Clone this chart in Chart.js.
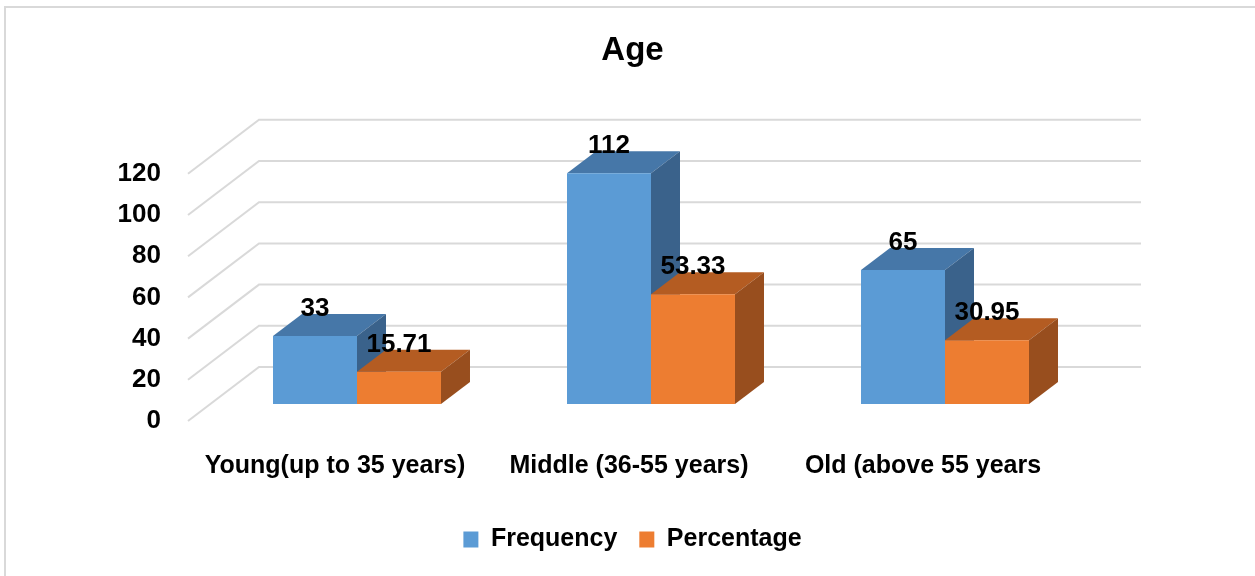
<!DOCTYPE html>
<html>
<head>
<meta charset="utf-8">
<script src="https://cdn.jsdelivr.net/npm/chart.js@4.4.1/dist/chart.umd.min.js"></script>
<style>
  html, body { margin: 0; padding: 0; background: #ffffff; }
  #wrap { width: 1255px; height: 576px; position: relative; }
</style>
</head>
<body>
<div id="wrap"><canvas id="c" width="1255" height="576"></canvas></div>
<script>
// ---- data ----
const categories = ['Young(up to 35 years)', 'Middle (36-55 years)', 'Old (above 55 years'];
const seriesNames = ['Frequency', 'Percentage'];
const frequency = [33, 112, 65];
const percentage = [15.71, 53.33, 30.95];
const yTickValues = [0, 20, 40, 60, 80, 100, 120];
const titleText = 'Age';

// ---- styles ----
const FONT = "'Liberation Sans', Arial, sans-serif";
const frontColors = ['#5b9bd5', '#ed7d31'];
const topColors = ['#4677a8', '#b45c22'];
const sideColors = ['#3a628b', '#984e1e'];
const GRID = '#d9d9d9';
// depth offsets relative to the bar plane (pixels)
const FRONT = { dx: -22, dy: 17 };
const BACK = { dx: 49, dy: -37 };
const DEPTH = { dx: 29, dy: -22 };

const threeD = {
  id: 'threeD',
  beforeDraw(chart) {
    const ctx = chart.ctx;
    ctx.save();
    ctx.fillStyle = '#ffffff';
    ctx.fillRect(0, 0, chart.width, chart.height);
    ctx.strokeStyle = '#d9d9d9';
    ctx.lineWidth = 2;
    ctx.strokeRect(5, 7, chart.width + 50, chart.height + 50);
    ctx.restore();
  },
  beforeDatasetsDraw(chart) {
    const ctx = chart.ctx;
    const a = chart.chartArea;
    const ys = chart.scales.y;
    ctx.save();
    ctx.strokeStyle = GRID;
    ctx.lineWidth = 2;
    yTickValues.forEach(v => {
      const py = ys.getPixelForValue(v);
      ctx.beginPath();
      ctx.moveTo(a.left + FRONT.dx, py + FRONT.dy);
      ctx.lineTo(a.left + BACK.dx, py + BACK.dy);
      ctx.lineTo(a.right + BACK.dx, py + BACK.dy);
      ctx.stroke();
    });
    const metas = [chart.getDatasetMeta(0), chart.getDatasetMeta(1)];
    for (let i = 0; i < categories.length; i++) {
      metas.forEach((m, di) => {
        const el = m.data[i];
        const p = el.getProps(['x', 'y', 'base', 'width'], true);
        const l = p.x - p.width / 2, r = p.x + p.width / 2;
        const top = p.y, base = p.base;
        ctx.fillStyle = topColors[di];
        ctx.beginPath();
        ctx.moveTo(l, top);
        ctx.lineTo(r, top);
        ctx.lineTo(r + DEPTH.dx, top + DEPTH.dy);
        ctx.lineTo(l + DEPTH.dx, top + DEPTH.dy);
        ctx.closePath();
        ctx.fill();
        ctx.fillStyle = sideColors[di];
        ctx.beginPath();
        ctx.moveTo(r, top);
        ctx.lineTo(r + DEPTH.dx, top + DEPTH.dy);
        ctx.lineTo(r + DEPTH.dx, base + DEPTH.dy);
        ctx.lineTo(r, base);
        ctx.closePath();
        ctx.fill();
      });
    }
    ctx.restore();
  },
  afterDatasetsDraw(chart) {
    const ctx = chart.ctx;
    ctx.save();
    ctx.fillStyle = '#000000';
    ctx.font = 'bold 26px ' + FONT;
    ctx.textAlign = 'center';
    ctx.textBaseline = 'middle';
    chart.data.datasets.forEach((ds, di) => {
      const m = chart.getDatasetMeta(di);
      m.data.forEach((el, i) => {
        const p = el.getProps(['x', 'y'], true);
        ctx.fillText(String(ds.data[i]), p.x, p.y - 27);
      });
    });
    ctx.restore();
  }
};

new Chart(document.getElementById('c'), {
  type: 'bar',
  data: {
    labels: categories,
    datasets: [
      { label: seriesNames[0], data: frequency, backgroundColor: frontColors[0], borderWidth: 0 },
      { label: seriesNames[1], data: percentage, backgroundColor: frontColors[1], borderWidth: 0 }
    ]
  },
  options: {
    responsive: false,
    devicePixelRatio: 1,
    animation: false,
    datasets: { bar: { categoryPercentage: 0.5714, barPercentage: 1.0 } },
    layout: { padding: { left: 10, right: 0, top: 0, bottom: 14 } },
    plugins: {
      title: {
        display: true,
        text: titleText,
        color: '#000000',
        font: { family: FONT, size: 33, weight: 'bold' },
        padding: { top: 31, bottom: 45 }
      },
      legend: {
        position: 'bottom',
        labels: {
          color: '#000000',
          font: { family: FONT, size: 25, weight: 'bold' },
          boxWidth: 15,
          boxHeight: 16,
          padding: 22
        }
      },
      tooltip: { enabled: false }
    },
    scales: {
      x: {
        grid: { display: false, drawTicks: false },
        border: { display: false },
        ticks: {
          color: '#000000',
          font: { family: FONT, size: 25, weight: 'bold' },
          padding: 47,
          labelOffset: FRONT.dx,
          maxRotation: 0,
          autoSkip: false
        },
        afterFit(s) { s.height = 101; }
      },
      y: {
        min: 0,
        max: 140,
        grid: { display: false, drawTicks: false },
        border: { display: false },
        ticks: {
          stepSize: 20,
          color: '#000000',
          font: { family: FONT, size: 26, weight: 'bold' },
          padding: 49,
          labelOffset: FRONT.dy
        },
        afterBuildTicks(s) { s.ticks = s.ticks.filter(t => yTickValues.includes(t.value)); },
        afterFit(s) { s.width = 200; }
      },
      y2: {
        position: 'right',
        display: true,
        grid: { display: false, drawTicks: false },
        border: { display: false },
        ticks: { display: false },
        afterFit(s) { s.width = 163; }
      }
    }
  },
  plugins: [threeD]
});
</script>
</body>
</html>
